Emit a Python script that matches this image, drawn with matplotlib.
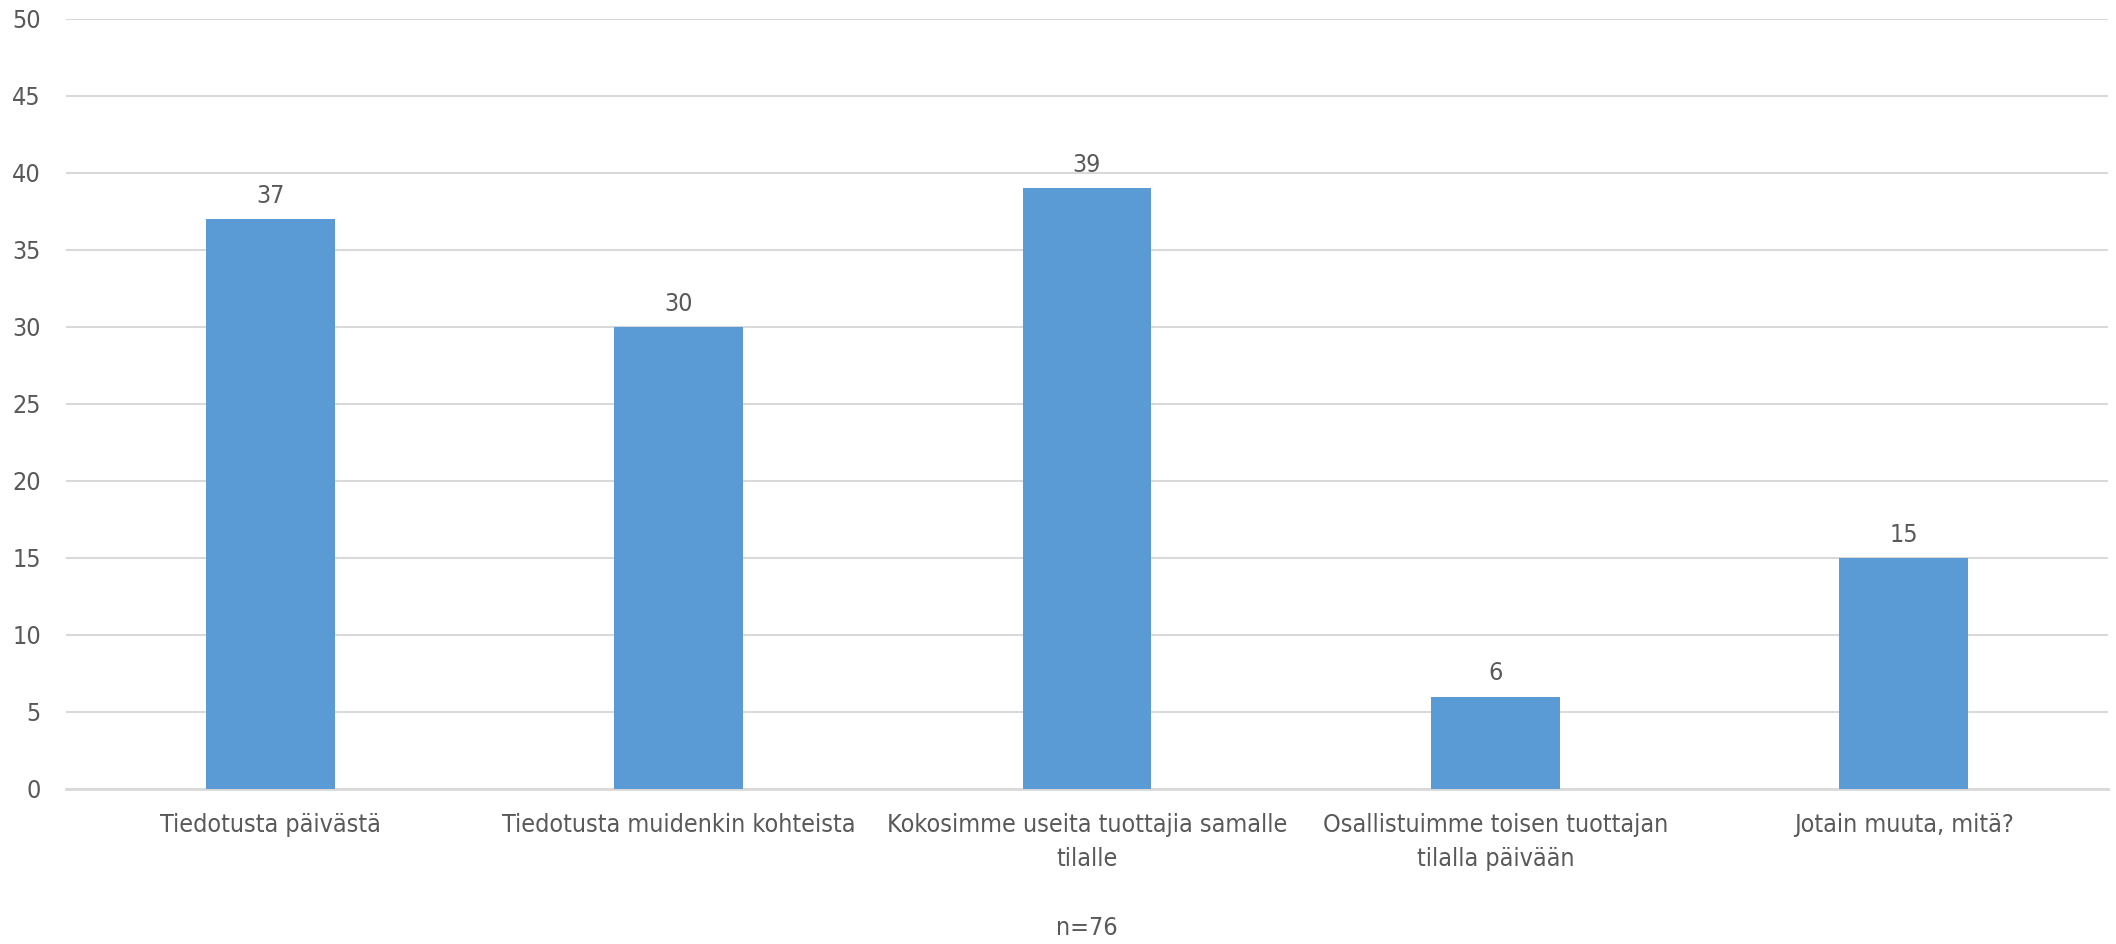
import matplotlib
matplotlib.use('Agg')
import matplotlib.pyplot as plt
from matplotlib import font_manager

# survey answers
categories = ['Tiedotusta päivästä',
              'Tiedotusta muidenkin kohteista',
              'Kokosimme useita tuottajia samalle\ntilalle',
              'Osallistuimme toisen tuottajan\ntilalla päivään',
              'Jotain muuta, mitä?']
counts = [37, 30, 39, 6, 15]
yticks = [0, 5, 10, 15, 20, 25, 30, 35, 40, 45, 50]
note = 'n=76'

# the original uses a narrow font; take a condensed face if there is one
narrow = [f for f in font_manager.fontManager.ttflist
          if 'condensed' in str(f.stretch) or 'Narrow' in f.name]
narrow = [f for f in narrow if f.weight in (400, 'normal') and f.style == 'normal']
if narrow:
    plt.rcParams['font.family'] = [narrow[0].name, 'DejaVu Sans']
    plt.rcParams['font.stretch'] = narrow[0].stretch
    fs = 18
else:
    plt.rcParams['font.family'] = ['Lato', 'DejaVu Sans']
    fs = 18

text_col = '#595959'
bar_col = '#5B9BD5'
grid_col = '#D9D9D9'

fig = plt.figure(figsize=(21.16, 9.44), dpi=100)
ax = fig.add_axes([0.0312, 0.1642, 0.9650, 0.8157])

x = range(len(categories))
bars = ax.bar(x, counts, width=0.315, color=bar_col, zorder=3)
for b, v in zip(bars, counts):
    ax.annotate(str(v), (b.get_x() + b.get_width() / 2, v), textcoords='offset points',
                xytext=(0, 8), ha='center', va='bottom', fontsize=fs, color=text_col)

ax.set_xlim(-0.5, len(categories) - 0.5)
ax.set_ylim(0, 50)
ax.set_yticks(yticks)
ax.set_xticks(list(x))
ax.set_xticklabels(categories, fontsize=fs, color=text_col, linespacing=1.55)
ax.tick_params(axis='y', labelsize=fs, labelcolor=text_col, length=0, pad=18)
ax.tick_params(axis='x', length=0, pad=17)
ax.grid(axis='y', color=grid_col, linewidth=1.5, zorder=0)
for s in ['top', 'right', 'left']:
    ax.spines[s].set_visible(False)
ax.spines['bottom'].set_color(grid_col)
ax.spines['bottom'].set_linewidth(2)

fig.text(0.5135, 0.004, note, ha='center', va='bottom', fontsize=fs, color=text_col)

fig.savefig('out.png', dpi=100)
